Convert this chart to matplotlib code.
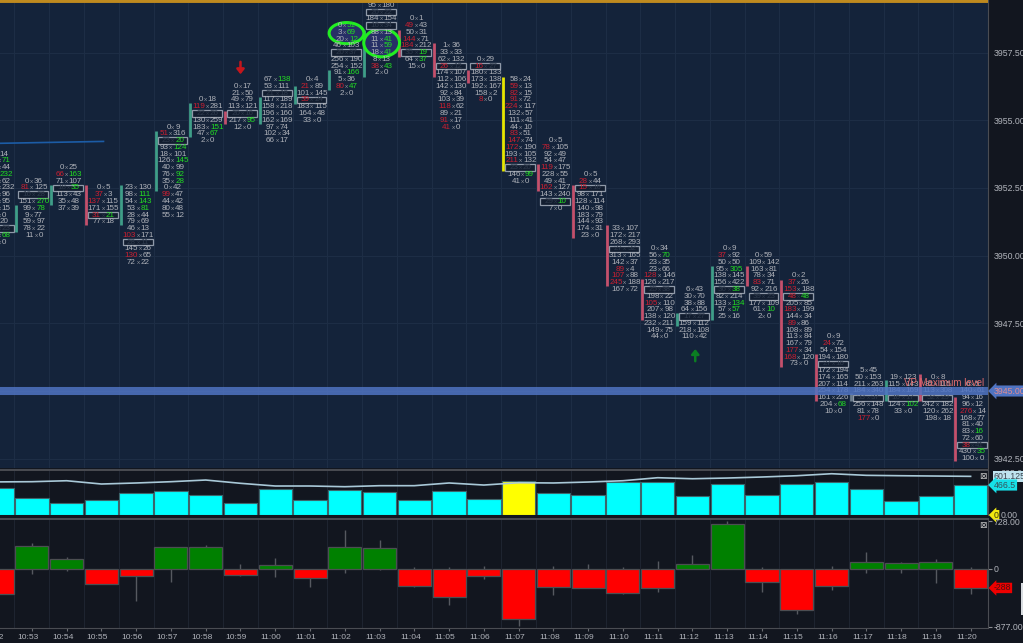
import numpy as np
import matplotlib
matplotlib.use("Agg")
import matplotlib.pyplot as plt
from matplotlib.patches import Ellipse, Rectangle
from matplotlib.transforms import blended_transform_factory

plt.rcParams['font.family'] = ['Liberation Sans', 'DejaVu Sans']

times = ["10:52", "10:53", "10:54", "10:55", "10:56", "10:57", "10:58", "10:59", "11:00", "11:01",
         "11:02", "11:03", "11:04", "11:05", "11:06", "11:07", "11:08", "11:09", "11:10", "11:11",
         "11:12", "11:13", "11:14", "11:15", "11:16", "11:17", "11:18", "11:19", "11:20"]

# bid x ask per price row, top row first. ! marks the imbalance side
col_1052 = "9x14 21x71! 40x44 88x232! 60x62 150x232 80x96 70x95 20x15 3x0 9x20 12x23 30x68! 2x0"
col_1053 = "0x36 !81x125 16x28 151x270! 99x78! 9x77 59x97 78x22 11x0"
col_1054 = "0x25 !66x163! 71x107 18x35! 113x43 35x48 37x39"
col_1055 = "0x5 !37x3 !137x115 171x155 !31x21! 77x18"
col_1056 = "23x130 98x111! 54x143! 53x81! 28x44 79x69 46x13 !103x171 28x11 145x26 !130x65 72x22"
col_1057 = "0x9 !51x316 23x20! 93x124! 18x101 126x145! 40x99 76x92! 35x28! 0x42 !99x47 44x42 80x48 55x12"
col_1058 = "0x18 !119x281 22x26 130x259 183x151! 47x67! 2x0"
col_1059 = "0x17 21x50 49x79 113x121 20x16 217x95! 12x0"
col_1100 = "67x138! 53x111 21x18 117x189 158x218 196x160 162x169 97x74 102x34 66x17"
col_1101 = "0x4 !21x89 101x145 !39x24 183x115 164x48 33x0"
col_1102 = "0x51! 3x69! 20x12! 46x103 20x37 256x190 254x152 91x166! 5x36 !80x47! 2x0"
col_1103 = "0x86 95x180 20x22 184x154 16x34 88x13 11x41! 11x59! 18x41! 8x13 !38x43! 2x0"
col_1104 = "0x1 !49x43 50x31 !144x71 !184x212 35x19! 64x37! 15x0"
col_1105 = "1x36 33x33 62x132 !26x12 174x107 112x106 142x130 92x84 103x39 !118x62 89x21 !91x17 !41x0"
col_1106 = "0x29 !16x27 180x133 173x138 192x167 158x2 !8x0"
col_1107 = ("58x24 !59x13 !82x15 !91x72 !224x117 132x57 111x41 44x10 !83x51 !147x74 !172x190 193x105 "
            "!211x132 23x20 146x99! 41x0")
col_1108 = "0x5 !78x105 92x49 54x47 !119x175 228x55 49x41 !162x127 143x240 29x10! 7x0"
col_1109 = "0x5 !28x44 !15x16 98x171 128x114 140x98 183x79 144x93 174x31 23x0"
col_1110 = "33x107 172x217 268x293 27x32 313x165 142x37 !89x4 !107x88 !245x188 167x72"
col_1111 = "0x34 56x70! 23x35 23x66 !128x146 126x217 25x38 198x22 !105x110 207x98 138x120 232x211 149x75 44x0"
col_1112 = "6x43 30x70 38x88 64x156 17x27 159x112 218x108 110x42"
col_1113 = "0x9 !37x92 50x50 95x305! 138x145 156x422 36x38! 82x214 133x134! 57x57! 25x16"
col_1114 = "0x59 109x142 163x81 78x34 !83x71 92x216 39x23 177x109 61x10! 2x0"
col_1115 = ("0x2 !37x26 !153x188 !48x48! 205x85 !183x199 144x34 !89x86 108x89 113x84 167x79 !177x34 "
            "!168x120 73x0")
col_1116 = "0x9 !24x72 54x154 194x180 27x16 172x194 174x165 207x114 254x178 161x226 204x68! 10x0"
col_1117 = "5x45 50x153 211x263 184x340 33x37 256x148 81x78 !177x0"
col_1118 = "19x123 115x143 184x169 16x17 124x102! 33x0"
col_1119 = "0x8 82x115 113x308 32x29 242x182 120x262 198x18"
col_1120 = "0x5 140x61 94x16 96x12 !276x14 168x77 81x40 83x16! 72x60 !38x41 430x35! 100x0"

columns = [col_1052, col_1053, col_1054, col_1055, col_1056, col_1057, col_1058, col_1059, col_1100,
           col_1101, col_1102, col_1103, col_1104, col_1105, col_1106, col_1107, col_1108, col_1109,
           col_1110, col_1111, col_1112, col_1113, col_1114, col_1115, col_1116, col_1117, col_1118,
           col_1119, col_1120]

top_price = [3953.75, 3952.75, 3953.25, 3952.5, 3952.5, 3954.75, 3955.75, 3956.25, 3956.5, 3956.5,
             3958.5, 3959.5, 3958.75, 3957.75, 3957.25, 3956.5, 3954.25, 3953.0, 3951.0, 3950.25,
             3948.75, 3950.25, 3950.0, 3949.25, 3947.0, 3945.75, 3945.5, 3945.5, 3945.25]
poc_rows = [[11], [2], [3], [4], [8], [2], [2], [4], [2], [3], [4], [2, 4], [5], [3], [1], [13], [9],
            [2], [3], [6], [4], [6], [6], [3], [4], [4], [3], [3], [9]]

# price bars, 10:52 is off the left edge
bar_high = [3953.0, 3951.87, 3952.6, 3952.6, 3952.6, 3954.6, 3955.64, 3955.34, 3955.86, 3956.27,
            3956.86, 3958.34, 3958.34, 3957.86, 3956.86, 3956.6, 3953.39, 3952.6, 3951.13, 3949.14,
            3947.88, 3949.62, 3949.62, 3949.1, 3946.37, 3944.93, 3945.41, 3945.63, 3944.78]
bar_low = [3951.0, 3950.87, 3951.87, 3951.13, 3951.13, 3952.39, 3954.38, 3954.86, 3954.86, 3955.6,
           3956.12, 3956.6, 3957.34, 3956.6, 3956.38, 3953.13, 3952.39, 3950.65, 3948.88, 3947.62,
           3947.4, 3947.62, 3948.88, 3945.89, 3944.63, 3944.63, 3944.63, 3944.63, 3942.41]
bar_kind = ["up", "up", "up", "down", "up", "up", "up", "down", "up", "up", "up", "up", "down", "down",
            "down", "hot", "down", "down", "down", "down", "up", "up", "down", "down", "down", "flat",
            "up", "down", "down"]

volume = [420, 269, 182, 229, 337, 378, 316, 182, 404, 229, 389, 358, 233, 369, 253, 533, 337, 306, 508,
          518, 295, 477, 306, 487, 508, 400, 222, 295, 466.5]
volume_avg = [515, 518, 533, 482, 498, 518, 544, 493, 451, 451, 440, 456, 456, 498, 466, 502, 498, 513,
              533, 580, 564, 575, 591, 611, 642, 617, 611, 606, 601.125]

delta_close = [-380, 350, 157, -233, -106, 335, 330, -96, 61, -137, 335, 319, -264, -431, -106, -760,
               -274, -284, -365, -284, 76, 684, -203, -618, -264, 111, 91, 106, -288]
delta_high = [0, 395, 187, 0, 0, 335, 360, 71, 172, 0, 598, 441, 25, 25, 41, 0, 51, 81, 25, 122, 218, 725,
              25, 0, 41, 253, 106, 152, 25]
delta_low = [-380, -71, -30, -233, -481, -198, 0, -111, -122, -279, -61, -10, -279, -542, -147, -872,
             -400, -284, -385, -345, 0, 0, -345, -679, -324, -61, -61, -218, -375]

price_ticks = [3942.5, 3945.0, 3947.5, 3950.0, 3952.5, 3955.0, 3957.5]

W, H = 1023, 643
BG_MAIN = "#14233a"
BG_DARK = "#12161f"
GREY = "#b0b3ba"
TICK = 0.25
COL_W = 34.9

fig = plt.figure(figsize=(W / 100, H / 100), dpi=100, facecolor=BG_DARK)


def panel(top, bottom, color):
    ax = fig.add_axes([0, 1 - bottom / H, 988 / W, (bottom - top) / H], facecolor=color)
    ax.set_xlim(-32 / COL_W, 956 / COL_W)
    ax.set_xticks(np.arange(-1, 28) + 0.5, minor=True)
    ax.tick_params(which="minor", length=0)
    ax.grid(True, which="minor", axis="x", lw=0.8)
    ax.yaxis.tick_right()
    for s in ["left", "bottom"]:
        ax.spines[s].set_visible(False)
    ax.spines["right"].set_color("#4a4c52")
    ax.spines["top"].set_color("#4a4c52")
    ax.spines["top"].set_linewidth(1.4)
    ax.set_axisbelow(True)
    return ax


ax = panel(0, 468, BG_MAIN)
ax.set_ylim(3945 - 77 / 27.07, 3945 + 391 / 27.07)
ax.grid(True, which="minor", axis="x", color="#1d2d45")
ax.set_yticks(price_ticks)
ax.set_yticklabels(["%.2f" % p for p in price_ticks], fontsize=6.3, color=GREY)
ax.tick_params(axis="y", length=0, pad=4)
ax.grid(True, which="major", axis="y", color="#1d2d45", lw=0.8)
ax.set_xticks([])
ax.spines["top"].set_visible(False)

ax.axhline(3959.39, color="#bf8a1f", lw=2.8, zorder=6)
ax.plot([-0.92, 2.06], [3954.15, 3954.22], color="#1c5ca6", lw=1.2, zorder=2)

# ellipses go under the numbers
ell = [(9.05, 3958.22, 1.0, 0.78), (10.06, 3957.86, 1.03, 1.03)]
for ex, ey, ew, eh in ell:
    ax.add_patch(Ellipse((ex, ey), ew, eh, facecolor="#272f66", edgecolor="#22ee22", lw=2.2, zorder=3))

digit = 4.4 / COL_W
for i, (cells, top, poc) in enumerate(zip(columns, top_price, poc_rows)):
    x = i - 1 + 2 / COL_W
    color = {"up": "#3f9e88", "down": "#c4506c", "hot": "#e6e600", "flat": "#6d7f8f"}[bar_kind[i]]
    ax.plot([i - 1 - 15.5 / COL_W] * 2, [bar_low[i], bar_high[i]], color=color, lw=2,
            solid_capstyle="butt", zorder=2)
    for r, cell in enumerate(cells.split()):
        p = top - r * TICK
        bid, ask = cell.split("x")
        hot_bid = bid.startswith("!")
        hot_ask = ask.endswith("!")
        bid = bid.strip("!")
        ask = ask.strip("!")
        base = "#2e3a4c" if r in poc else GREY
        if r in poc:
            ax.add_patch(Rectangle((x - 15.5 / COL_W, p - 0.12), 30 / COL_W, 0.24, facecolor="#121d2f",
                                   edgecolor="#8f99a8", lw=0.9, zorder=4))
        mid = x + (len(bid) - len(ask)) * digit / 2
        ax.text(mid, p, "x", color="#8c9099" if r not in poc else base, fontsize=4.6,
                ha="center", va="center", zorder=5, clip_on=True)
        ax.text(mid - 2.3 / COL_W, p, bid, color="#cc1f30" if hot_bid else base, fontsize=5.8,
                ha="right", va="center", zorder=5, clip_on=True)
        ax.text(mid + 2.3 / COL_W, p, ask, color="#22dd22" if hot_ask else base, fontsize=5.8,
                ha="left", va="center", zorder=5, clip_on=True)

ax.axhline(3945, color="#5074c2", lw=5.8, alpha=0.85, zorder=6)
ax.text(27.39, 3945.3, "VP Maximum level", color="#dd6a6c", fontsize=7, ha="right", va="center", zorder=7)

ax.annotate("", xy=(6.0, 3956.7), xytext=(6.0, 3957.16), zorder=5,
            arrowprops=dict(arrowstyle="-|>,head_width=0.28,head_length=0.35", color="#c4161c", lw=1.8,
                            shrinkA=0, shrinkB=0, mutation_scale=8))
ax.annotate("", xy=(19.08, 3946.55), xytext=(19.08, 3946.1), zorder=5,
            arrowprops=dict(arrowstyle="-|>,head_width=0.28,head_length=0.35", color="#0b7d22", lw=1.8,
                            shrinkA=0, shrinkB=0, mutation_scale=8))


def tag(a, y, text, fill, txt_color, style="larrow,pad=0.12", x=1.006):
    tr = blended_transform_factory(a.transAxes, a.transData)
    a.text(x, y, text, transform=tr, fontsize=6.3, color=txt_color, va="center", ha="left", zorder=9,
           clip_on=False, bbox=dict(boxstyle=style, facecolor=fill, edgecolor="none"))


tag(ax, 3945, "3945.00", "#5074c2", "#e08c92")

# volume panel
ax2 = panel(470, 515, BG_DARK)
ax2.set_ylim(0, 700)
ax2.grid(True, which="minor", axis="x", color="#1e2430")
vol_x = np.arange(-1, 28)
vol_colors = ["#ffff00" if k == "hot" else "#00ffff" for k in bar_kind]
ax2.bar(vol_x, volume, width=0.96, color=vol_colors, edgecolor="#3c666c", lw=0.8, zorder=3)
ax2.plot(vol_x, volume_avg, color="#a9c9d8", lw=1.2, zorder=4)
ax2.set_xticks([])
ax2.set_yticks([0, 663])
ax2.set_yticklabels(["0.00", "663.00"], fontsize=6.3, color=GREY)
ax2.tick_params(axis="y", length=0, pad=9)
tag(ax2, volume_avg[-1], "601.125", "#bfe3ef", "#3d4650", style="square,pad=0.12")
tag(ax2, volume[-1], "466.5", "#16e0e8", "#36505a")
tag(ax2, 0, "0", "#f2ea10", "#3a3a10", style="larrow,pad=0.06")

# delta panel
ax3 = panel(519, 628, BG_DARK)
ax3.set_ylim(-59 * 15.2, 50 * 15.2)
ax3.grid(True, which="minor", axis="x", color="#1e2430")
ax3.vlines(vol_x, delta_low, delta_high, color="#565960", lw=1, zorder=2)
delta_colors = ["#ff0000" if c < 0 else "#008000" for c in delta_close]
ax3.bar(vol_x, delta_close, width=0.95, color=delta_colors, edgecolor="#4c4e52", lw=0.9, zorder=3)
ax3.set_xticks(vol_x[1:])
ax3.set_xticklabels([])
ax3.tick_params(axis="x", which="major", length=2, color="#6b6d72")
ax3.set_yticks([-877, 0, 728])
ax3.set_yticklabels(["-877.00", "0", "728.00"], fontsize=6.3, color=GREY)
ax3.tick_params(axis="y", length=3, width=0.8, color="#8a8c90", pad=1)
ax3.spines["bottom"].set_visible(True)
ax3.spines["bottom"].set_color("#4a4c52")
tag(ax3, delta_close[-1], "-288", "#ee0000", "#4a1010", style="larrow,pad=0.08")
for i, lab in zip(vol_x, times):
    ax3.annotate(lab, (i, 0), xycoords=("data", "axes fraction"), xytext=(-2.9, -6.9),
                 textcoords="offset points", fontsize=6.1, color=GREY, ha="center", va="center",
                 annotation_clip=False)

# close buttons in the lower panels
for a, y in [(ax2, 601.125), (ax3, 660)]:
    tr = blended_transform_factory(a.transAxes, a.transData)
    a.text(0.995, y, "\u22a0", transform=tr, fontsize=6.5, color="#c8c8c8", ha="center", va="center",
           zorder=8)

fig.add_artist(Rectangle((1021 / W, 1 - 615 / H), 2 / W, 32 / H, transform=fig.transFigure,
                         facecolor="#d8dce0", edgecolor="none"))

fig.savefig("out.png", dpi=100, facecolor=fig.get_facecolor())
